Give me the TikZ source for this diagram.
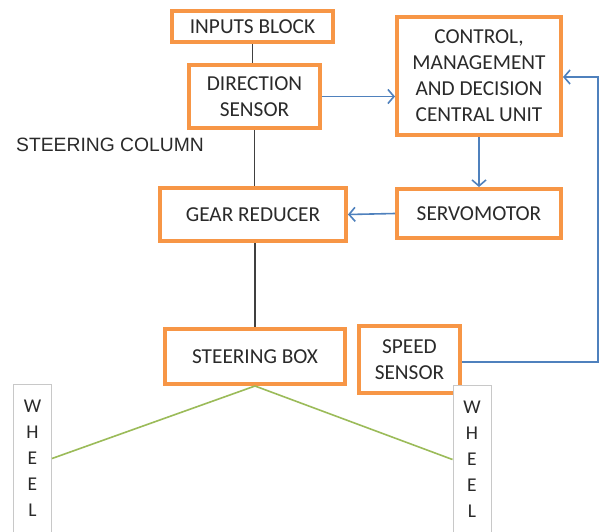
\documentclass[tikz,border=0pt]{standalone}
\usepackage{fontspec}
\setmainfont{Carlito}
\newfontfamily\arialf{Liberation Sans}
\usetikzlibrary{arrows.meta}
\definecolor{boxorange}{HTML}{F79646}
\definecolor{linkblue}{HTML}{4F81BD}
\definecolor{linkgreen}{HTML}{9BBB59}
\definecolor{wheelgray}{HTML}{C8C8C8}
\definecolor{txt}{HTML}{2A2A2A}
\tikzset{
  blockbox/.style={draw=boxorange, line width=4pt, fill=white, inner sep=0pt,
    align=center, text=txt, font=\fontsize{21.3}{26}\selectfont},
  wheelbox/.style={draw=wheelgray, line width=1pt, fill=white, inner sep=0pt,
    minimum width=38pt, minimum height=148pt, align=center, text=txt,
    font=\fontsize{19.5}{26}\selectfont},
  shaftline/.style={draw=black!75, line width=1.1pt},
  signal/.style={draw=linkblue, line width=1.6pt,
    -{Straight Barb[length=6pt,width=14pt,line width=1.6pt]}},
  linkage/.style={draw=linkgreen, line width=1.6pt},
}
\begin{document}
\begin{tikzpicture}[x=1pt,y=-1pt]
\useasboundingbox[fill=white] (0,0) rectangle (605,531);
% blocks
\node[blockbox, minimum width=161pt, minimum height=31pt] (inputs) at (252.5,26.5) {INPUTS BLOCK};
\node[blockbox, minimum width=131pt, minimum height=63pt] (dir) at (254.5,96.5) {DIRECTION\\SENSOR};
\node[blockbox, minimum width=164pt, minimum height=118pt] (ctrl) at (479,76) {CONTROL,\\MANAGEMENT\\AND DECISION\\CENTRAL UNIT};
\node[blockbox, minimum width=164pt, minimum height=49pt] (servo) at (479,213.5) {SERVOMOTOR};
\node[blockbox, minimum width=186pt, minimum height=53pt] (gear) at (253,214.5) {GEAR REDUCER};
\node[blockbox, minimum width=180pt, minimum height=55pt] (steer) at (255,356.5) {STEERING BOX};
\node[blockbox, minimum width=101pt, minimum height=67pt] (speed) at (409.5,359.5) {SPEED\\SENSOR};
% wheels
\node[wheelbox, anchor=north] (wl) at (32.5,384) {W\\H\\E\\E\\L};
\node[wheelbox, anchor=north] (wr) at (472,385) {W\\H\\E\\E\\L};
% label
\node[text=txt, font=\arialf\fontsize{19.3}{22}\selectfont, anchor=west, inner sep=0pt] (col) at (16,145) {STEERING COLUMN};
% shafts
\draw[shaftline] (inputs.south) -- (inputs.south |- dir.north);
\draw[shaftline] (dir.south) -- (dir.south |- gear.north);
\draw[shaftline] (steer.north |- gear.south) -- (steer.north);
% signals
\draw[signal] (dir.east) -- (dir.east -| ctrl.west);
\draw[signal] (ctrl.south) -- (servo.north);
\draw[signal] (servo.west) -- (gear.east);
\coordinate (fbb) at (598,362);
\coordinate (fbt) at (598,77);
\draw[signal] (speed.east |- fbb) -- (fbb) -- (fbt) -- (fbt -| ctrl.east);
% linkage
\draw[linkage] (steer.south) -- (wl.east);
\draw[linkage] (steer.south) -- (wr.west);
\end{tikzpicture}
\end{document}
